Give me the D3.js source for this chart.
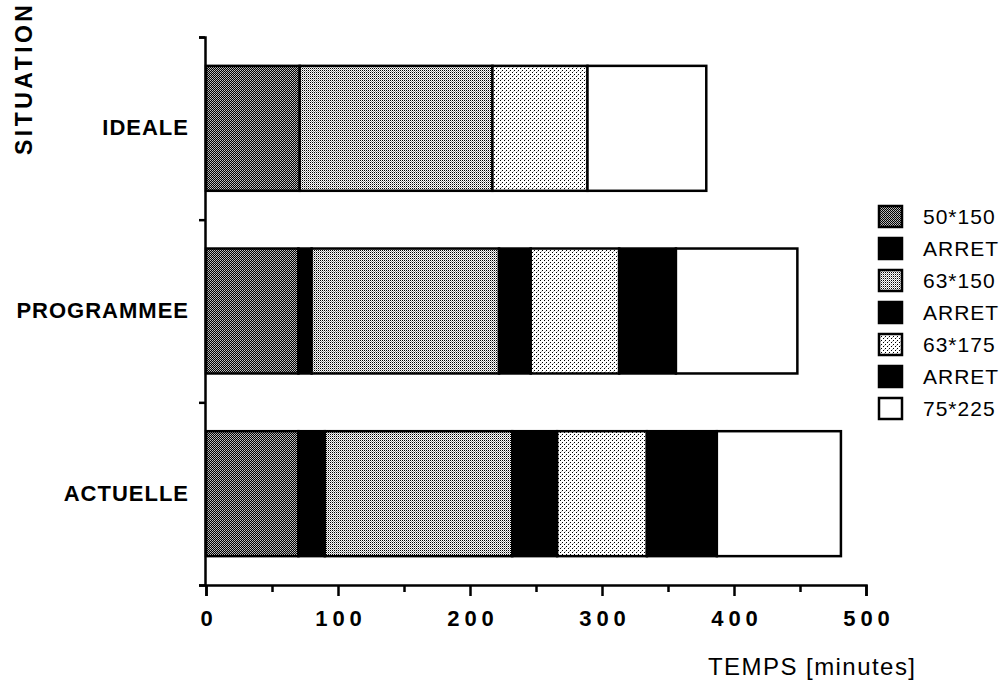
<!DOCTYPE html>
<html><head><meta charset="utf-8">
<script src="https://cdn.jsdelivr.net/npm/d3@7"></script>
<style>
html,body{margin:0;padding:0;background:#fff;}
svg{display:block;font-family:"Liberation Sans",Arial,Helvetica,sans-serif;}
</style></head>
<body>
<svg id="chart" width="1005" height="687"></svg>
<script>
// ---- data ----
const categories = ["IDEALE", "PROGRAMMEE", "ACTUELLE"];
const seriesNames = ["50*150", "ARRET", "63*150", "ARRET", "63*175", "ARRET", "75*225"];
const idealeValues     = [71, 0, 146, 0, 72, 0, 90];
const programmeeValues = [70, 10, 142, 24, 67, 43, 92];
const actuelleValues   = [70, 20, 142, 34, 68, 53, 94];
const xTickValues = [0, 100, 200, 300, 400, 500];
const xMinorTickValues = [50, 150, 250, 350, 450];
const xTitle = "TEMPS [minutes]";
const yTitle = "SITUATION";

const valuesByCategory = [idealeValues, programmeeValues, actuelleValues];
const rows = categories.map((c, i) => {
  const r = {situation: c};
  seriesNames.forEach((s, j) => r["k" + j] = valuesByCategory[i][j]);
  return r;
});
const keys = seriesNames.map((s, j) => "k" + j);

const svg = d3.select("#chart");
const defs = svg.append("defs");

// halftone-like patterns
function pattern(id, size, bg, dots) {
  const p = defs.append("pattern").attr("id", id).attr("patternUnits", "userSpaceOnUse")
    .attr("width", size).attr("height", size);
  p.append("rect").attr("width", size).attr("height", size).attr("fill", bg);
  dots.forEach(d => p.append("rect").attr("x", d[0]).attr("y", d[1]).attr("width", 1).attr("height", 1).attr("fill", d[2]));
}
pattern("pDark", 2, "#000", [[0, 0, "#c4c4c4"], [1, 1, "#a8a8a8"]]);
pattern("pMed", 2, "#fff", [[0, 0, "#000"], [1, 1, "#9a9a9a"]]);
pattern("pLight", 4, "#fff", [[0, 0, "#000"], [2, 2, "#000"], [1, 3, "#bbb"]]);

const fills = ["url(#pDark)", "#000", "url(#pMed)", "#000", "url(#pLight)", "#000", "#fff"];

// ---- scales ----
const x = d3.scaleLinear().domain([0, 500]).range([206, 866]);
const y = d3.scaleBand().domain(categories).range([37, 585]).paddingInner(0.316).paddingOuter(0.158);
const yBound = d3.scaleLinear().domain([0, categories.length]).range([585, 37]);

// ---- bars ----
const stacked = d3.stack().keys(keys)(rows);
const g = svg.append("g");
stacked.forEach((layer, j) => {
  g.selectAll(null).data(layer.filter(d => d[1] - d[0] > 0)).enter().append("rect")
    .attr("x", d => x(d[0]))
    .attr("y", d => y(d.data.situation))
    .attr("width", d => x(d[1]) - x(d[0]))
    .attr("height", y.bandwidth())
    .attr("fill", fills[j])
    .attr("stroke", "#000")
    .attr("stroke-width", 2.5);
});

// ---- axes ----
const yAxis = svg.append("g").attr("transform", "translate(205,0)")
  .call(d3.axisLeft(yBound).tickValues(d3.range(categories.length + 1)).tickSize(6).tickFormat(""));
yAxis.select(".domain").attr("stroke-width", 2.5);
yAxis.selectAll(".tick line").attr("stroke-width", 2.5);

const yLabels = svg.append("g").attr("transform", "translate(188,0)")
  .call(d3.axisLeft(y).tickSize(0).tickPadding(0));
yLabels.select(".domain").remove();
yLabels.selectAll("text").attr("font-size", 22).attr("font-weight", "bold")
  .attr("font-family", "Liberation Sans, Arial, sans-serif").attr("fill", "#000")
  .style("letter-spacing", "1px").attr("dx", "1px");

const xAxis = svg.append("g").attr("transform", "translate(0,585)")
  .call(d3.axisBottom(x).tickValues(xTickValues).tickSize(11).tickPadding(14).tickFormat(d3.format("d")));
xAxis.select(".domain").attr("stroke-width", 2.5);
xAxis.selectAll(".tick line").attr("stroke-width", 2.5);
xAxis.selectAll("text").attr("font-size", 22).attr("font-weight", "bold")
  .attr("font-family", "Liberation Sans, Arial, sans-serif").attr("fill", "#000")
  .style("letter-spacing", "5px").attr("dx", "2.5px");
const xMinor = svg.append("g").attr("transform", "translate(0,585)")
  .call(d3.axisBottom(x).tickValues(xMinorTickValues).tickSize(7).tickFormat(""));
xMinor.select(".domain").remove();
xMinor.selectAll(".tick line").attr("stroke-width", 2.5);

// ---- titles ----
svg.append("text").attr("x", 708).attr("y", 675).attr("font-size", 24)
  .attr("textLength", 207).attr("lengthAdjust", "spacing").text(xTitle);
svg.append("text").attr("transform", "translate(32,5) rotate(-90)").attr("text-anchor", "end")
  .attr("font-size", 23).attr("font-weight", "bold")
  .attr("textLength", 150).attr("lengthAdjust", "spacing").text(yTitle);

// ---- legend ----
const legend = svg.append("g");
const li = legend.selectAll("g").data(seriesNames).enter().append("g")
  .attr("transform", (d, i) => `translate(879,${206 + i * 32})`);
li.append("rect").attr("width", 23).attr("height", 21)
  .attr("fill", (d, i) => fills[i]).attr("stroke", "#000").attr("stroke-width", 2.5);
li.append("text").attr("x", 44).attr("y", 18).attr("font-size", 21)
  .style("letter-spacing", "1px").text(d => d);
</script>
</body></html>
